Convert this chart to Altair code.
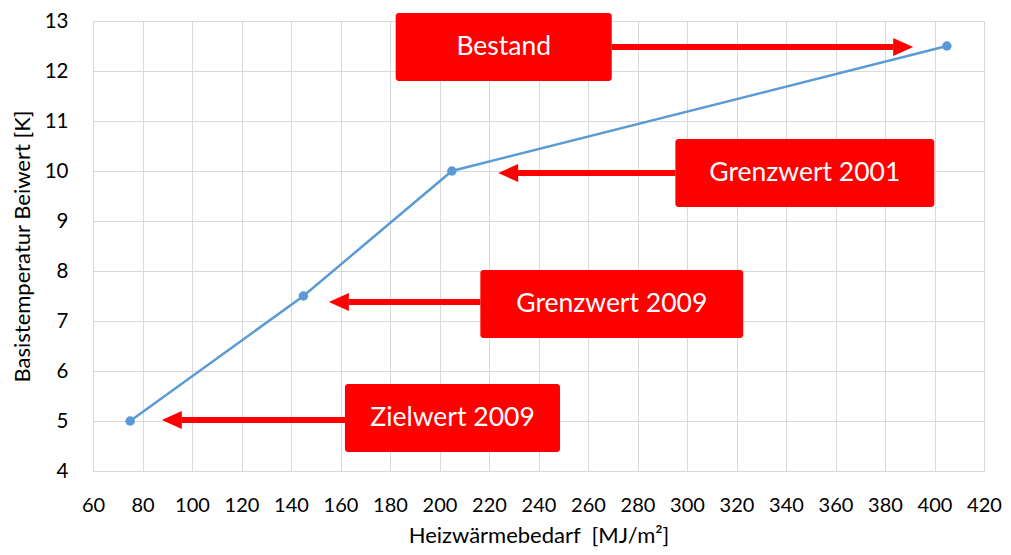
import altair as alt
import pandas as pd

# Curve data
heat_demand = [75, 145, 205, 405]
base_temp = [5.0, 7.5, 10.0, 12.5]

# Annotation labels and boxes (data units)
labels = ["Bestand", "Grenzwert 2001", "Grenzwert 2009", "Zielwert 2009"]
box_x1 = [182.3, 295.3, 216.5, 161.8]
box_x2 = [269.6, 399.9, 322.7, 248.7]
box_y1 = [13.16, 10.64, 8.02, 5.74]
box_y2 = [11.80, 9.28, 6.66, 4.38]
arrow_y = [12.48, 9.96, 7.38, 5.02]
arrow_tip = [391.4, 223.7, 155.3, 87.8]
arrow_dir = ["right", "left", "left", "left"]

FONT = "Lato"

curve = pd.DataFrame({"x": heat_demand, "y": base_temp})
ann = pd.DataFrame({
    "label": labels, "x1": box_x1, "x2": box_x2, "y1": box_y1, "y2": box_y2,
    "ay": arrow_y, "tip": arrow_tip, "dir": arrow_dir,
})
ann["xc"] = (ann["x1"] + ann["x2"]) / 2
ann["yc"] = (ann["y1"] + ann["y2"]) / 2
ann["start"] = [x2 if d == "right" else x1 for x1, x2, d in zip(ann["x1"], ann["x2"], ann["dir"])]
ann["lineend"] = [t - 8 if d == "right" else t + 8 for t, d in zip(ann["tip"], ann["dir"])]

xscale = alt.Scale(domain=[60, 420], nice=False, zero=False)
yscale = alt.Scale(domain=[4, 13], nice=False, zero=False)

xaxis = alt.Axis(values=list(range(60, 421, 20)), title="Heizwärmebedarf\u00a0\u00a0[MJ/m²]",
                 grid=True, gridColor="#d9d9d9", ticks=False, domainColor="#d9d9d9",
                 labelFontSize=20, labelFont=FONT, labelColor="#000", labelPadding=24,
                 labelOverlap=False, labelBound=False, labelFlush=False,
                 titleFont=FONT, titleFontSize=22, titleFontWeight="normal", titleColor="#000",
                 titlePadding=10)
yaxis = alt.Axis(values=list(range(4, 14)), title="Basistemperatur Beiwert [K]",
                 grid=True, gridColor="#d9d9d9", ticks=False, domain=False,
                 labelFontSize=20.5, labelFont=FONT, labelColor="#000", labelPadding=25,
                 labelOverlap=False, labelFlush=False,
                 titleFont=FONT, titleFontSize=22, titleFontWeight="normal", titleColor="#000",
                 titlePadding=10)

base = alt.Chart(curve)
line = base.mark_line(color="#5b9bd5", strokeWidth=2.5).encode(
    x=alt.X("x:Q", scale=xscale, axis=xaxis),
    y=alt.Y("y:Q", scale=yscale, axis=yaxis),
)
pts = base.mark_point(filled=True, color="#5b9bd5", size=90, opacity=1).encode(
    x=alt.X("x:Q", scale=xscale), y=alt.Y("y:Q", scale=yscale)
)

a = alt.Chart(ann)
shafts = a.mark_rule(color="#ff0000", strokeWidth=6, clip=False).encode(
    x=alt.X("start:Q", scale=xscale), x2="lineend:Q", y=alt.Y("ay:Q", scale=yscale)
)
head_r = a.transform_filter(alt.datum.dir == "right").mark_point(
    shape="M0,0 L-2,-0.9 L-2,0.9 Z", filled=True, color="#ff0000", size=400, opacity=1, clip=False
).encode(x=alt.X("tip:Q", scale=xscale), y=alt.Y("ay:Q", scale=yscale))
head_l = a.transform_filter(alt.datum.dir == "left").mark_point(
    shape="M0,0 L2,-0.9 L2,0.9 Z", filled=True, color="#ff0000", size=400, opacity=1, clip=False
).encode(x=alt.X("tip:Q", scale=xscale), y=alt.Y("ay:Q", scale=yscale))
boxes = a.mark_rect(color="#ff0000", cornerRadius=3, clip=False).encode(
    x=alt.X("x1:Q", scale=xscale), x2="x2:Q", y=alt.Y("y1:Q", scale=yscale), y2="y2:Q"
)
texts = a.mark_text(color="white", font=FONT, fontSize=26.5, align="center", baseline="middle").encode(
    x=alt.X("xc:Q", scale=xscale), y=alt.Y("yc:Q", scale=yscale), text="label:N"
)

chart = alt.layer(line, pts, shafts, head_r, head_l, boxes, texts).properties(
    width=891, height=450,
    autosize=alt.AutoSizeParams(type="none"),
    padding={"left": 85, "top": 13, "right": 19, "bottom": 76},
).configure_view(stroke=None).configure(background="white")

chart.save("out.html", embed_options={"renderer": "svg", "actions": False})
